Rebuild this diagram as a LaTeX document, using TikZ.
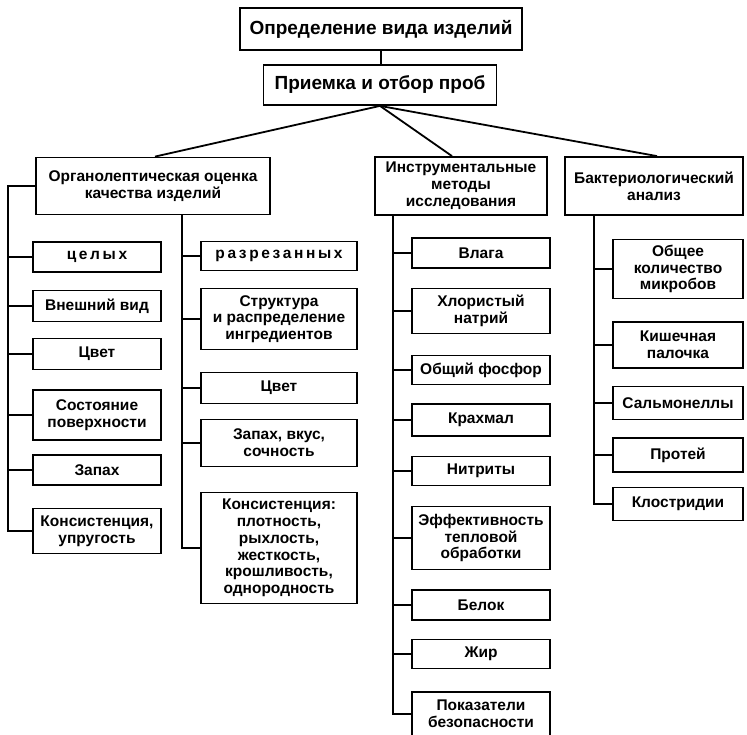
\documentclass[tikz,border=0pt]{standalone}
\usepackage{fontspec}
\setmainfont{Liberation Sans}
\usetikzlibrary{calc}
\begin{document}
\begin{tikzpicture}[x=1pt,y=-1pt,
  box/.style={draw, line width=1.8pt, align=center, inner sep=0pt,
    font=\fontsize{15.5}{16.8}\selectfont\bfseries},
  big/.style={font=\fontsize{19}{22}\selectfont\bfseries},
  sz/.style 2 args={minimum width=#1pt, minimum height=#2pt},
  link/.style={line width=1.8pt},
  spaced/.style={font=\fontsize{15.5}{16.8}\selectfont\bfseries\addfontfeatures{LetterSpace=17}}]
\useasboundingbox (0,0) rectangle (747,735);

% top of the tree
\node[box, big, sz={282}{42}] (top)  at (381,29) {Определение вида изделий};
\node[box, big, sz={233}{40}] (recv) at (380,85) {Приемка и отбор проб};

% three main branches
\node[box, sz={234}{57}] (h1) at (153,186) {Органолептическая оценка\\качества изделий};
\node[box, sz={172}{58}] (h2) at (461,186) {Инструментальные\\методы\\исследования};
\node[box, sz={178}{58}] (h3) at (654,186) {Бактериологический\\анализ};

% organoleptic: whole items
\node[box, spaced, sz={128}{30}] (a1) at (97,257) {целых};
\node[box, sz={128}{31}] (a2) at (97,306) {Внешний вид};
\node[box, sz={128}{31}] (a3) at (97,354) {Цвет};
\node[box, sz={128}{50}] (a4) at (97,415) {Состояние\\поверхности};
\node[box, sz={128}{30}] (a5) at (97,470) {Запах};
\node[box, sz={128}{45}] (a6) at (97,531) {Консистенция,\\упругость};

% organoleptic: cut items
\node[box, spaced, sz={156}{29}] (b1) at (279,256) {разрезанных};
\node[box, sz={156}{61}]  (b2) at (279,319) {Структура\\и распределение\\ингредиентов};
\node[box, sz={156}{31}]  (b3) at (279,388) {Цвет};
\node[box, sz={156}{47}]  (b4) at (279,443) {Запах, вкус,\\сочность};
\node[box, sz={156}{111}] (b5) at (279,548) {Консистенция:\\плотность,\\рыхлость,\\жесткость,\\крошливость,\\однородность};

% instrumental methods
\node[box, sz={138}{30}] (m1) at (481,253) {Влага};
\node[box, sz={138}{45}] (m2) at (481,311) {Хлористый\\натрий};
\node[box, sz={138}{29}] (m3) at (481,370) {Общий фосфор};
\node[box, sz={138}{32}] (m4) at (481,420) {Крахмал};
\node[box, sz={138}{29}] (m5) at (481,471) {Нитриты};
\node[box, sz={138}{63}] (m6) at (481,538) {Эффективность\\тепловой\\обработки};
\node[box, sz={138}{30}] (m7) at (481,605) {Белок};
\node[box, sz={138}{29}] (m8) at (481,654) {Жир};
\node[box, sz={138}{44}] (m9) at (481,714) {Показатели\\безопасности};

% bacteriological analysis
\node[box, sz={130}{59}] (r1) at (678,269) {Общее\\количество\\микробов};
\node[box, sz={130}{46}] (r2) at (678,345) {Кишечная\\палочка};
\node[box, sz={130}{33}] (r3) at (678,403) {Сальмонеллы};
\node[box, sz={130}{34}] (r4) at (678,455) {Протей};
\node[box, sz={130}{33}] (r5) at (678,504) {Клостридии};

% trunk positions
\coordinate (tl) at (8,0);
\coordinate (ti) at (182,0);
\coordinate (tm) at (393,0);
\coordinate (tr) at (594,0);

% upper links
\draw[link] (top.south) -- (top.south |- recv.north);
\draw[link] (recv.south) -- ([xshift=2pt]h1.north);
\draw[link] (recv.south) -- ([xshift=-9pt]h2.north);
\draw[link] (recv.south) -- ([xshift=3pt]h3.north);

% organoleptic trunks
\draw[link] (h1.west) -- (h1.west -| tl) -- (tl |- a6.west) -- (a6.west);
\foreach \n in {a1,a2,a3,a4,a5} \draw[link] (tl |- \n.west) -- (\n.west);
\draw[link] (ti |- h1.south) -- (ti |- b5.west) -- (b5.west);
\foreach \n in {b1,b2,b3,b4} \draw[link] (ti |- \n.west) -- (\n.west);

% instrumental trunk
\draw[link] (tm |- h2.south) -- (tm |- m9.west) -- (m9.west);
\foreach \n in {m1,m2,m3,m4,m5,m6,m7,m8} \draw[link] (tm |- \n.west) -- (\n.west);

% bacteriological trunk
\draw[link] (tr |- h3.south) -- (tr |- r5.west) -- (r5.west);
\foreach \n in {r1,r2,r3,r4} \draw[link] (tr |- \n.west) -- (\n.west);
\end{tikzpicture}
\end{document}
